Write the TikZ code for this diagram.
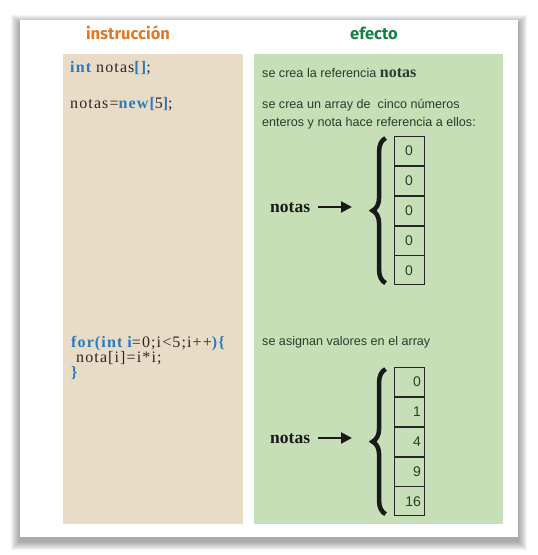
\documentclass[tikz,border=0pt]{standalone}
\usepackage{fontspec}
\setmainfont{Liberation Serif}
\setsansfont{Liberation Sans}
\newfontfamily\titlefont{Fira Sans}
\newfontfamily\codefont[LetterSpace=7]{Liberation Serif}
\usetikzlibrary{positioning,decorations.pathreplacing,arrows.meta}

\definecolor{beige}{RGB}{233,220,198}
\definecolor{verdeclaro}{RGB}{198,223,182}
\definecolor{azulcod}{RGB}{40,122,192}
\definecolor{naranja}{RGB}{222,122,40}
\definecolor{verdetit}{RGB}{22,128,68}
\definecolor{textoverde}{RGB}{38,62,48}
\definecolor{textocod}{RGB}{45,38,38}

\newcommand{\kw}[1]{\textcolor{azulcod}{\bfseries #1}}

\begin{document}
\begin{tikzpicture}[x=1pt,y=-1pt]
    % Estilos
    \tikzstyle{titulo}=[font=\titlefont\bfseries\fontsize{16.5}{18}\selectfont]
    \tikzstyle{codigo}=[anchor=base west, align=left, inner sep=0pt, text=textocod, font=\codefont\fontsize{16}{15}\selectfont]
    \tikzstyle{efecto}=[anchor=base west, inner sep=0pt, text=textoverde, font=\sffamily\fontsize{12.6}{13}\selectfont]
    \tikzstyle{celda}=[draw=black!85, thick, minimum width=30pt, minimum height=29pt, inner sep=0pt, text=textoverde, font=\sffamily\fontsize{14}{14}\selectfont]
    \tikzstyle{celdader}=[celda, text width=24pt, align=right]
    \tikzstyle{llave}=[decorate, decoration={brace, amplitude=13pt}, line width=4.5pt, black!90]
    \tikzstyle{referencia}=[-{Triangle[length=11pt,width=11pt]}, line width=2.2pt, black!90]
    \tikzstyle{etiqueta}=[font=\bfseries\fontsize{17.5}{17}\selectfont, text=black!90, inner sep=0pt]

    \useasboundingbox (0,0) rectangle (538,555);

    % Sombra y tarjeta
    \foreach \s in {1,...,9}
        \fill[black, opacity=0.045] (20-\s,20-\s+4) rectangle (518+\s,537+\s+4);
    \fill[white] (20,20) rectangle (518,537);

    % Paneles
    \fill[beige] (63,54) rectangle (243,524);
    \fill[verdeclaro] (254,54) rectangle (503,524);

    % Titulos
    \node[titulo, text=naranja] (tit_instr) at (128,33) {instrucción};
    \node[titulo, text=verdetit] (tit_efecto) at (374,33) {efecto};

    % Instrucciones
    \node[codigo] (cod_decl) at (70,72) {\kw{int} notas\kw{[]};};
    \node[codigo] (cod_new) at (70,108) {notas=\kw{new[}5\kw{]};};
    \node[codigo] (cod_for) at (71,377) {\kw{for(int i}=0;i<5;i++\kw{)\{}\\
        \hspace*{5pt}nota[i]=i*i;\\
        \kw{\}}};

    % Efectos
    \node[efecto] (ef_decl) at (262,77) {se crea la referencia \textrm{\bfseries\fontsize{16}{16}\selectfont notas}};
    \node[efecto] (ef_new) at (262,108) {se crea un array de\ \ cinco números};
    \node[efecto] (ef_new2) at (262,126) {enteros y nota hace referencia a ellos:};
    \node[efecto] (ef_for) at (262,345) {se asignan valores en el array};

    % Primer array
    \node[celda] (a0) at (409,151) {0};
    \node[celda, below=0pt of a0] (a1) {0};
    \node[celda, below=0pt of a1] (a2) {0};
    \node[celda, below=0pt of a2] (a3) {0};
    \node[celda, below=0pt of a3] (a4) {0};
    \draw[llave] ([xshift=-8pt,yshift=2pt]a4.south west) -- ([xshift=-8pt,yshift=-2pt]a0.north west);
    \node[etiqueta, anchor=base west] (notas_a) at (270,212) {notas};
    \draw[referencia] (notas_a.base east) ++(8,-5) coordinate (ini_a) -- (ini_a -| 352,0);

    % Segundo array
    \node[celdader] (b0) at (409,382) {0};
    \node[celdader, below=0pt of b0] (b1) {1};
    \node[celdader, below=0pt of b1] (b2) {4};
    \node[celdader, below=0pt of b2] (b3) {9};
    \node[celdader, below=0pt of b3] (b4) {16};
    \draw[llave] ([xshift=-8pt,yshift=2pt]b4.south west) -- ([xshift=-8pt,yshift=-2pt]b0.north west);
    \node[etiqueta, anchor=base west] (notas_b) at (270,443) {notas};
    \draw[referencia] (notas_b.base east) ++(8,-5) coordinate (ini_b) -- (ini_b -| 352,0);
\end{tikzpicture}
\end{document}
